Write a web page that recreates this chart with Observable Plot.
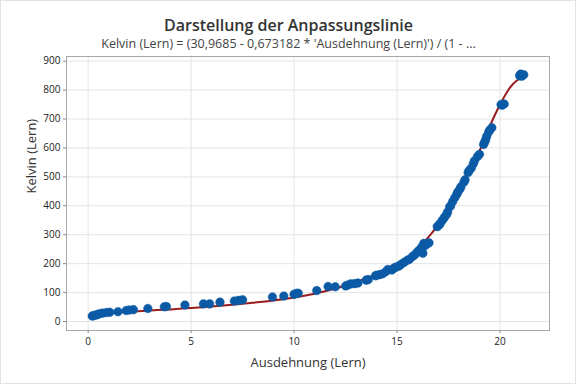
<!DOCTYPE html>
<html>
<head>
<meta charset="utf-8">
<script src="https://cdn.jsdelivr.net/npm/d3@7"></script>
<script src="https://cdn.jsdelivr.net/npm/@observablehq/plot@0.6"></script>
<style>
  body { margin: 0; background: #fff; }
  #wrap { position: relative; width: 576px; height: 384px; }
  #border { position: absolute; left: 0; top: 0; width: 576px; height: 384px; box-sizing: border-box; border: 1px solid #e3e3e3; pointer-events: none; }
</style>
</head>
<body>
<div id="wrap"><div id="border"></div></div>
<script>
const title = "Darstellung der Anpassungslinie";
const subtitle = "Kelvin (Lern) = (30,9685 - 0,673182 * 'Ausdehnung (Lern)') / (1 - ...";
const xLabel = "Ausdehnung (Lern)";
const yLabel = "Kelvin (Lern)";
const xTicks = [0, 5, 10, 15, 20];
const yTicks = [0, 100, 200, 300, 400, 500, 600, 700, 800, 900];

// observed points
const ausdehnung = [0.2,0.25,0.35,0.45,0.55,0.7,0.9,1.05,1.45,1.85,2.0,2.2,2.9,3.7,3.8,4.7,5.6,5.9,6.4,7.1,7.3,7.5,
  8.95,9.5,10.0,10.1,10.2,11.1,11.65,12.0,12.5,12.6,12.75,12.95,13.1,13.5,13.6,13.95,14.0,14.15,14.3,14.45,14.55,14.75,14.85,14.95,
  15.1,15.2,15.35,15.5,15.6,15.75,15.85,15.95,16.05,16.15,16.2,16.25,16.3,16.35,16.45,16.55,16.95,17.05,17.1,17.2,17.3,17.4,17.45,
  17.55,17.6,17.7,17.8,17.9,17.95,18.05,18.1,18.25,18.3,18.45,18.5,18.6,18.7,18.75,18.9,19.0,19.2,19.25,19.3,19.35,19.45,19.5,19.6,
  20.05,20.1,20.2,20.95,21.0,21.05,21.15];
const kelvin = [19,20,22,24,27,29,31,32,34,38,40,41,45,51,52,57,61,61,67,71,73,75,
  85,88,94,97,98,107,121,120,123,126,130,131,133,143,145,158,160,162,165,172,180,178,185,188,
  192,198,205,212,215,225,230,238,245,250,258,236,270,262,268,272,328,334,340,350,360,370,378,
  396,400,415,428,440,448,458,466,482,490,515,522,530,545,555,570,578,612,620,628,640,655,662,670,
  750,748,752,850,855,848,853];

// fitted line
const fitX = [0.2,1,2,3,4,5,6,7,8,9,10,11,12,13,14,15,15.5,16,16.5,17,17.5,18,18.5,19,19.5,20,20.5,20.8,21.1];
const fitY = [24,29,34,38,42,47,52,58,65,73,83,96,114,137,162,190,212,248,290,335,395,460,525,590,675,750,810,832,842];

const pts = ausdehnung.map((x, i) => ({x, y: kelvin[i]}));
const fit = fitX.map((x, i) => ({x, y: fitY[i]}));

const font = "'Open Sans', 'Noto Sans', sans-serif";

const chart = Plot.plot({
  width: 576,
  height: 384,
  marginLeft: 66,
  marginRight: 27,
  marginTop: 56,
  marginBottom: 54,
  style: {fontFamily: font, background: "transparent", overflow: "visible"},
  x: {domain: [-1.05, 22.4], ticks: xTicks, label: null},
  y: {domain: [-31, 916], ticks: yTicks, label: null},
  marks: [
    Plot.gridX(xTicks, {stroke: "#e4e4e4", strokeOpacity: 1}),
    Plot.gridY(yTicks, {stroke: "#e4e4e4", strokeOpacity: 1}),
    Plot.frame({stroke: "#a8a8a8"}),
    Plot.axisX({ticks: xTicks, tickSize: 3, tickPadding: 4, fontSize: 10, stroke: "#888", color: "#222", label: null}),
    Plot.axisY({ticks: yTicks, tickSize: 3, tickPadding: 3, fontSize: 10, stroke: "#888", color: "#222", label: null}),
    Plot.line(fit, {x: "x", y: "y", stroke: "#9a1c1c", strokeWidth: 2, curve: "monotone-x"}),
    Plot.dot(pts, {x: "x", y: "y", r: 4.3, fill: "#0b5aa6", stroke: "#0b5aa6", strokeWidth: 0.5}),
    Plot.text([title], {frameAnchor: "top", dx: -19.5, dy: -37, fontSize: 16, fontWeight: 600, fill: "#333"}),
    Plot.text([subtitle], {frameAnchor: "top", dx: -19.5, dy: -17, fontSize: 12.5, fill: "#444"}),
    Plot.text([xLabel], {frameAnchor: "bottom", dy: 32, fontSize: 13, fill: "#333", lineAnchor: "middle"}),
    Plot.text([yLabel], {frameAnchor: "left", dx: -35, rotate: -90, fontSize: 13, fill: "#333"})
  ]
});
chart.style.position = "absolute";
chart.style.left = "0";
chart.style.top = "0";
document.getElementById("wrap").prepend(chart);
</script>
</body>
</html>
